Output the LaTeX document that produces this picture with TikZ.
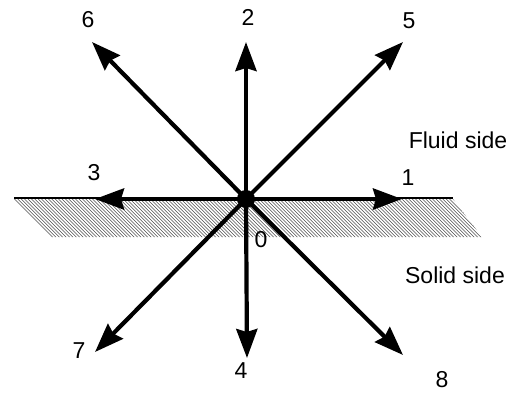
\documentclass[tikz,border=0pt]{standalone}
\usepackage{fontspec}
\setmainfont{Liberation Sans}
\usetikzlibrary{arrows.meta}
\begin{document}
\begin{tikzpicture}[x=1pt,y=-1pt,
  vec/.style={line width=4.2pt, -{Stealth[length=29pt,width=21pt,inset=3pt]}},
  lbl/.style={anchor=base, inner sep=0pt, font=\fontsize{23}{27}\selectfont},
  hatch/.style={black!70, line width=0.55pt},
  edge/.style={line width=1.8pt}]
\useasboundingbox (0,0) rectangle (516,392);
% solid wall hatching
\begin{scope}
  \clip (14,199) -- (453,199) -- (482,237) -- (50,237) -- cycle;
  \foreach \i in {-40,-36.6,...,490} {
    \draw[hatch] (\i,199) -- ++(40,40);
  }
\end{scope}
\coordinate (wl) at (14,198);
\coordinate (wr) at (453,198);
\draw[edge] (wl) -- (wr);
% centre and tips
\coordinate (o) at (246,199);
\coordinate (t1) at (402,199);
\coordinate (t2) at (246,42);
\coordinate (t3) at (95,199);
\coordinate (t4) at (247,358);
\coordinate (t5) at (403,42);
\coordinate (t6) at (92,42);
\coordinate (t7) at (95,352);
\coordinate (t8) at (403,355);
\foreach \k in {1,...,8} { \draw[vec] (o) -- (t\k); }
\fill (o) circle (9pt);
% labels
\node[lbl] (l1) at (408,185) {1};
\node[lbl] (l2) at (248,25) {2};
\node[lbl] (l3) at (94,180) {3};
\node[lbl] (l4) at (241,378) {4};
\node[lbl] (l5) at (409,28) {5};
\node[lbl] (l6) at (88,27) {6};
\node[lbl] (l7) at (79,358) {7};
\node[lbl] (l8) at (442,387) {8};
\node[lbl] (l0) at (261,247) {0};
\node[lbl] (fluid) at (458,148) {Fluid side};
\node[lbl] (solid) at (455,283) {Solid side};
\end{tikzpicture}
\end{document}
